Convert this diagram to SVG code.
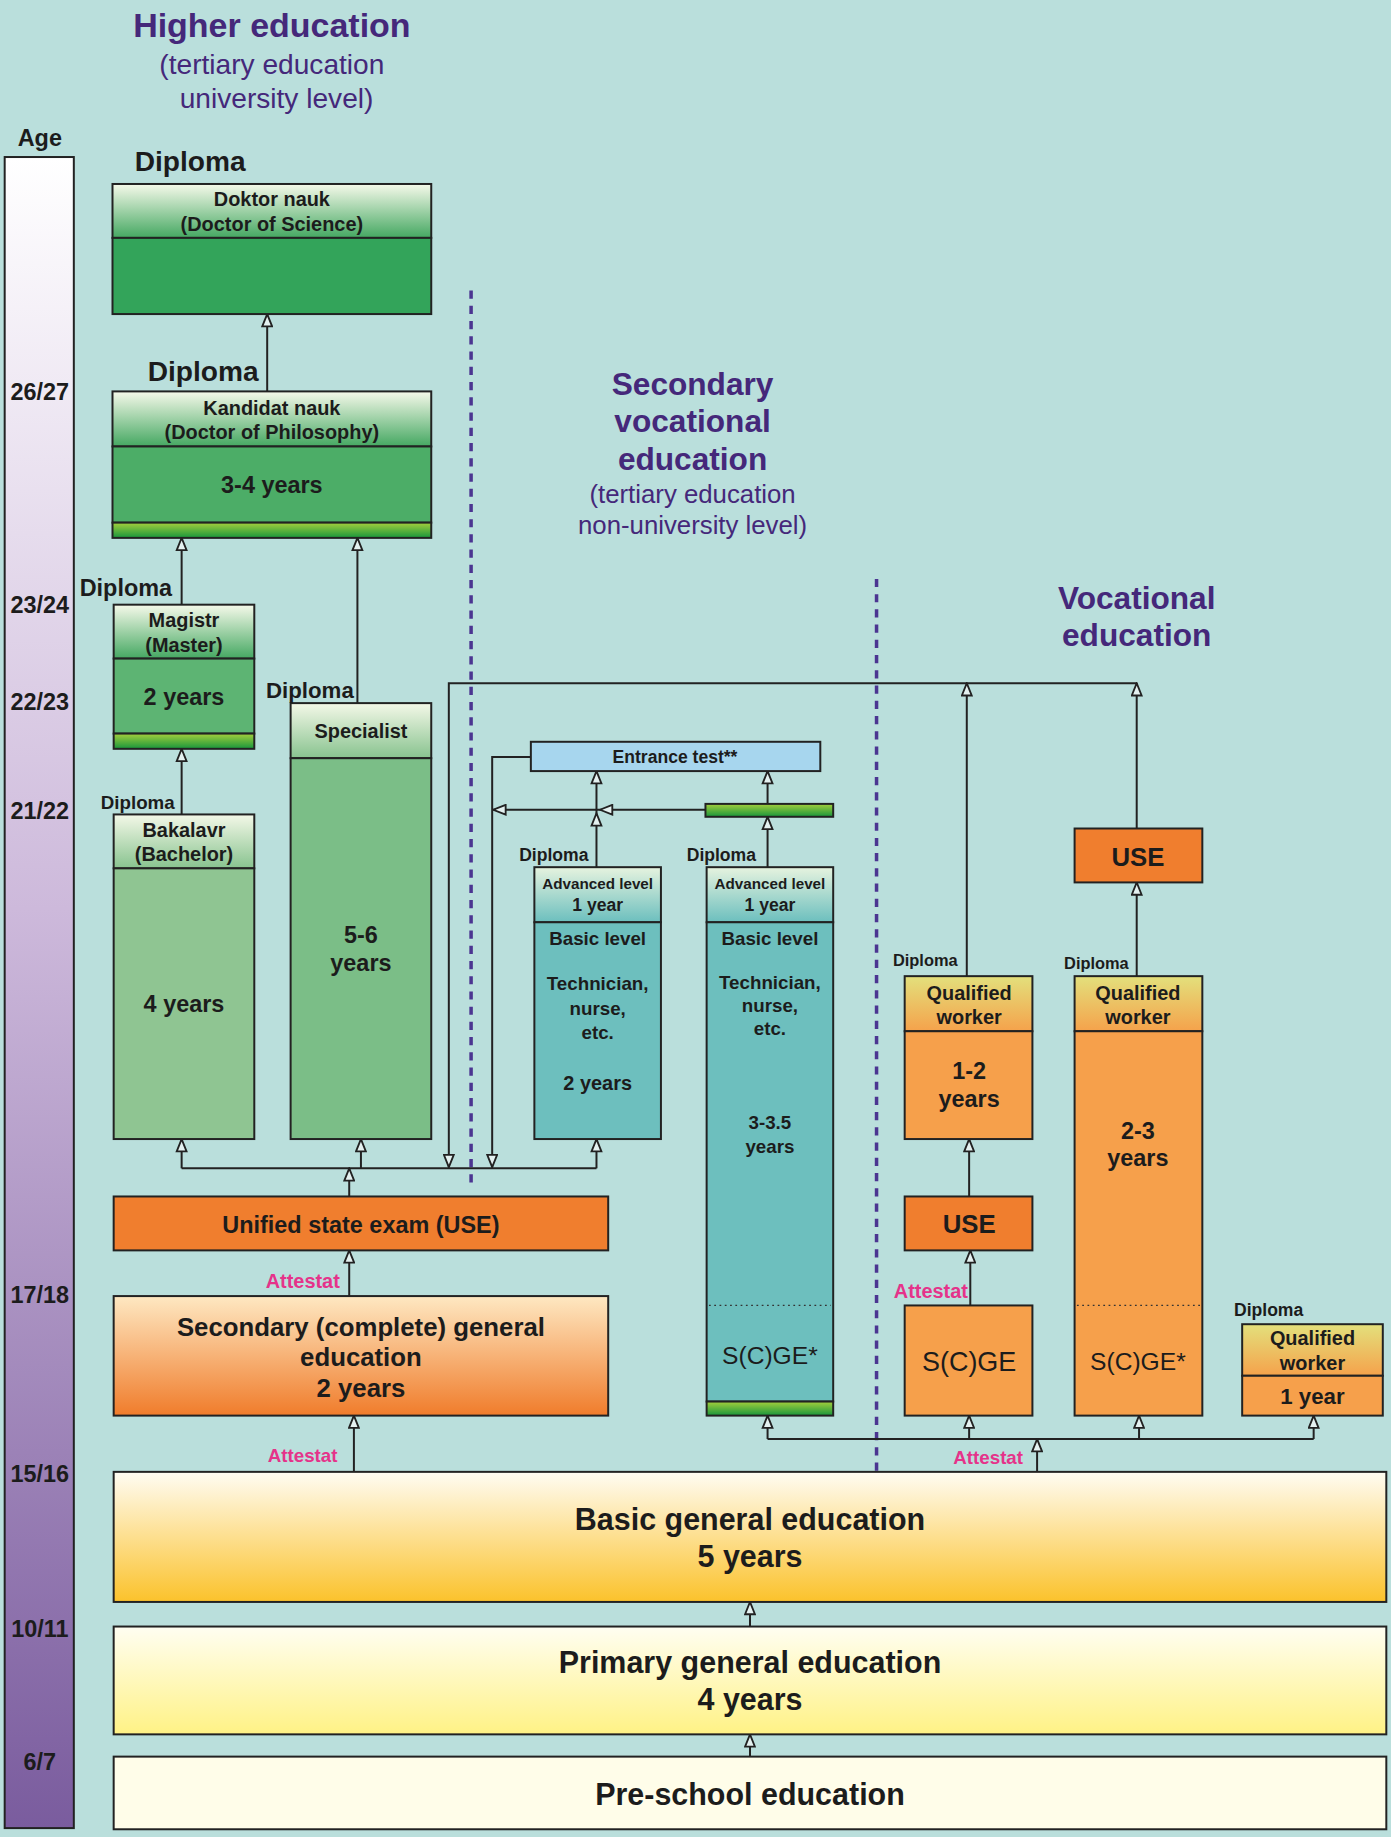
<svg xmlns="http://www.w3.org/2000/svg" width="1391" height="1837" viewBox="0 0 1391 1837">
<defs>
<linearGradient id="gAge" x1="0" y1="0" x2="0" y2="1"><stop offset="0" stop-color="#ffffff"/><stop offset="0.45" stop-color="#cdb9db"/><stop offset="1" stop-color="#7a5c9e"/></linearGradient>
<linearGradient id="gHeadDark" x1="0" y1="0" x2="0" y2="1"><stop offset="0" stop-color="#f6f9ea"/><stop offset="1" stop-color="#45a862"/></linearGradient>
<linearGradient id="gHeadLight" x1="0" y1="0" x2="0" y2="1"><stop offset="0" stop-color="#f4f8e8"/><stop offset="1" stop-color="#88c38f"/></linearGradient>
<linearGradient id="gStripe" x1="0" y1="0" x2="0" y2="1"><stop offset="0" stop-color="#a4cf3c"/><stop offset="1" stop-color="#18963c"/></linearGradient>
<linearGradient id="gTealHead" x1="0" y1="0" x2="0" y2="1"><stop offset="0" stop-color="#e6f3df"/><stop offset="1" stop-color="#6cbfbe"/></linearGradient>
<linearGradient id="gQWHead" x1="0" y1="0" x2="0" y2="1"><stop offset="0" stop-color="#e3e07c"/><stop offset="1" stop-color="#f5a24b"/></linearGradient>
<linearGradient id="gSec" x1="0" y1="0" x2="0" y2="1"><stop offset="0" stop-color="#fee8c2"/><stop offset="1" stop-color="#f07c2b"/></linearGradient>
<linearGradient id="gBasic" x1="0" y1="0" x2="0" y2="1"><stop offset="0" stop-color="#fffcf3"/><stop offset="1" stop-color="#fbc22b"/></linearGradient>
<linearGradient id="gPrim" x1="0" y1="0" x2="0" y2="1"><stop offset="0" stop-color="#fffef2"/><stop offset="1" stop-color="#fff285"/></linearGradient>
<marker id="ah" markerUnits="userSpaceOnUse" viewBox="0 0 12 10" refX="11" refY="5" markerWidth="13" markerHeight="10.5" orient="auto">
<path d="M1,1 L11,5 L1,9 Z" fill="#e4f1f0" stroke="#222" stroke-width="1.5" stroke-linejoin="miter"/>
</marker>
</defs>
<style>
.bx{stroke:#222;stroke-width:1.7}
.ln{fill:none;stroke:#222;stroke-width:1.7}
.ar{fill:none;stroke:#222;stroke-width:1.7;marker-end:url(#ah)}
.dv{fill:none;stroke:#4b3591;stroke-width:3;stroke-dasharray:7 6}
.dt{fill:none;stroke:#333;stroke-width:1;stroke-dasharray:1.5 3}
text{font-family:"Liberation Sans",Arial,sans-serif;fill:#1c1c1c;text-anchor:middle}
.b{font-weight:bold}
.t1{font-weight:bold;fill:#45287a;font-size:29px}
.t2{fill:#45287a;font-size:24px}
.age{font-weight:bold;font-size:20px}
.dip{font-weight:bold;text-anchor:start}
.att{font-weight:bold;fill:#e5338a;text-anchor:end;font-size:17px}
</style>
<rect width="1391" height="1837" fill="#badfdc"/>
<g transform="scale(1.171862)">
<g id="titles">
<text class="t1" x="232" y="32">Higher education</text>
<text class="t2" x="232" y="63">(tertiary education</text>
<text class="t2" x="236" y="92">university level)</text>
<text class="t1" x="591" y="337" style="font-size:27px">Secondary</text>
<text class="t1" x="591" y="369" style="font-size:27px">vocational</text>
<text class="t1" x="591" y="401" style="font-size:27px">education</text>
<text class="t2" x="591" y="429" style="font-size:22px">(tertiary education</text>
<text class="t2" x="591" y="456" style="font-size:22px">non-university level)</text>
<text class="t1" x="970" y="520" style="font-size:27px">Vocational</text>
<text class="t1" x="970" y="551" style="font-size:27px">education</text>
</g>
<g id="age">
<text class="age" x="34" y="125">Age</text>
<rect class="bx" x="4" y="134" width="59" height="1426" fill="url(#gAge)"/>
<text class="age" x="34" y="341">26/27</text>
<text class="age" x="34" y="523">23/24</text>
<text class="age" x="34" y="606">22/23</text>
<text class="age" x="34" y="699">21/22</text>
<text class="age" x="34" y="1112">17/18</text>
<text class="age" x="34" y="1265">15/16</text>
<text class="age" x="34" y="1397">10/11</text>
<text class="age" x="34" y="1510">6/7</text>
</g>
<g id="dividers">
<path class="dv" d="M402,248 V1012"/>
<path class="dv" d="M748,494 V1256"/>
</g>
<g id="connectors">
<path class="ar" d="M228,334 V268"/>
<path class="ar" d="M155,516 V459"/>
<path class="ar" d="M305,600 V459"/>
<path class="ar" d="M155,695 V639"/>
<path class="ln" d="M155,997 H509"/>
<path class="ar" d="M155,997 V972"/>
<path class="ar" d="M308,997 V972"/>
<path class="ar" d="M509,997 V972"/>
<path class="ar" d="M298,1021 V997"/>
<path class="ar" d="M825,833 V583"/>
<path class="ar" d="M970,707 V583"/>
<path class="ar" d="M970,583 H383 V996"/>
<path class="ar" d="M453,646 H420 V996"/>
<path class="ar" d="M602,691 H512"/>
<path class="ar" d="M512,691 H421"/>
<path class="ar" d="M509,740 V694"/>
<path class="ar" d="M509,694 V658"/>
<path class="ar" d="M655,686 V658"/>
<path class="ar" d="M655,740 V697"/>
<path class="ar" d="M298,1106 V1067"/>
<path class="ar" d="M302,1256 V1208"/>
<path class="ln" d="M655,1228 H1121"/>
<path class="ar" d="M655,1228 V1208"/>
<path class="ar" d="M827,1228 V1208"/>
<path class="ar" d="M972,1228 V1208"/>
<path class="ar" d="M1121,1228 V1208"/>
<path class="ar" d="M885,1256 V1228"/>
<path class="ar" d="M827,1021 V972"/>
<path class="ar" d="M828,1114 V1067"/>
<path class="ar" d="M970,833 V753"/>
<path class="ar" d="M640,1388 V1367"/>
<path class="ar" d="M640,1499 V1480"/>
</g>
<g id="doktor">
<text class="dip" x="115" y="146" style="font-size:24px">Diploma</text>
<rect class="bx" x="96" y="157" width="272" height="46" fill="url(#gHeadDark)"/>
<rect class="bx" x="96" y="203" width="272" height="65" fill="#33a45a"/>
<text class="b" x="232" y="176" style="font-size:17px">Doktor nauk</text>
<text class="b" x="232" y="197" style="font-size:17px">(Doctor of Science)</text>
</g>
<g id="kandidat">
<text class="dip" x="126" y="325" style="font-size:24px">Diploma</text>
<rect class="bx" x="96" y="334" width="272" height="47" fill="url(#gHeadDark)"/>
<rect class="bx" x="96" y="381" width="272" height="65" fill="#4cad67"/>
<rect class="bx" x="96" y="446" width="272" height="13" fill="url(#gStripe)"/>
<text class="b" x="232" y="354" style="font-size:17px">Kandidat nauk</text>
<text class="b" x="232" y="375" style="font-size:17px">(Doctor of Philosophy)</text>
<text class="b" x="232" y="421" style="font-size:20px">3-4 years</text>
</g>
<g id="magistr">
<text class="dip" x="68" y="509" style="font-size:20px">Diploma</text>
<rect class="bx" x="97" y="516" width="120" height="46" fill="url(#gHeadDark)"/>
<rect class="bx" x="97" y="562" width="120" height="64" fill="#5db473"/>
<rect class="bx" x="97" y="626" width="120" height="13" fill="url(#gStripe)"/>
<text class="b" x="157" y="535" style="font-size:17px">Magistr</text>
<text class="b" x="157" y="556" style="font-size:17px">(Master)</text>
<text class="b" x="157" y="602" style="font-size:20px">2 years</text>
</g>
<g id="bakalavr">
<text class="dip" x="86" y="690" style="font-size:16px">Diploma</text>
<rect class="bx" x="97" y="695" width="120" height="46" fill="url(#gHeadLight)"/>
<rect class="bx" x="97" y="741" width="120" height="231" fill="#8fc592"/>
<text class="b" x="157" y="714" style="font-size:17px">Bakalavr</text>
<text class="b" x="157" y="735" style="font-size:17px">(Bachelor)</text>
<text class="b" x="157" y="864" style="font-size:20px">4 years</text>
</g>
<g id="specialist">
<rect class="bx" x="248" y="600" width="120" height="47" fill="url(#gHeadLight)"/>
<rect class="bx" x="248" y="647" width="120" height="325" fill="#7bbe87"/>
<text class="dip" x="227" y="596" style="font-size:19px">Diploma</text>
<text class="b" x="308" y="630" style="font-size:17px">Specialist</text>
<text class="b" x="308" y="805" style="font-size:20px">5-6</text>
<text class="b" x="308" y="829" style="font-size:20px">years</text>
</g>
<g id="entrance">
<rect class="bx" x="453" y="633" width="247" height="25" fill="#a7d6ee"/>
<text class="b" x="576" y="651" style="font-size:15px">Entrance test**</text>
</g>
<g id="greenbar">
<rect class="bx" x="602" y="686" width="109" height="11" fill="url(#gStripe)"/>
</g>
<g id="sve-left">
<text class="dip" x="443" y="735" style="font-size:15px">Diploma</text>
<rect class="bx" x="456" y="740" width="108" height="47" fill="url(#gTealHead)"/>
<rect class="bx" x="456" y="787" width="108" height="185" fill="#6dbfbe"/>
<text class="b" x="510" y="759" style="font-size:13px">Advanced level</text>
<text class="b" x="510" y="777" style="font-size:15px">1 year</text>
<text class="b" x="510" y="806" style="font-size:16px">Basic level</text>
<text class="b" x="510" y="845" style="font-size:16px">Technician,</text>
<text class="b" x="510" y="866" style="font-size:16px">nurse,</text>
<text class="b" x="510" y="887" style="font-size:16px">etc.</text>
<text class="b" x="510" y="930" style="font-size:17px">2 years</text>
</g>
<g id="sve-right">
<text class="dip" x="586" y="735" style="font-size:15px">Diploma</text>
<rect class="bx" x="603" y="740" width="108" height="47" fill="url(#gTealHead)"/>
<rect class="bx" x="603" y="787" width="108" height="409" fill="#6dbfbe"/>
<rect class="bx" x="603" y="1196" width="108" height="12" fill="url(#gStripe)"/>
<path class="dt" d="M605,1114 H709"/>
<text class="b" x="657" y="759" style="font-size:13px">Advanced level</text>
<text class="b" x="657" y="777" style="font-size:15px">1 year</text>
<text class="b" x="657" y="806" style="font-size:16px">Basic level</text>
<text class="b" x="657" y="844" style="font-size:16px">Technician,</text>
<text class="b" x="657" y="864" style="font-size:16px">nurse,</text>
<text class="b" x="657" y="883" style="font-size:16px">etc.</text>
<text class="b" x="657" y="963" style="font-size:16px">3-3.5</text>
<text class="b" x="657" y="984" style="font-size:16px">years</text>
<text x="657" y="1164" style="font-size:21px">S(C)GE*</text>
</g>
<g id="use-main">
<rect class="bx" x="97" y="1021" width="422" height="46" fill="#f07e2e"/>
<text class="b" x="308" y="1052" style="font-size:20px">Unified state exam (USE)</text>
</g>
<g id="secondary-complete">
<text class="att" x="290" y="1099">Attestat</text>
<rect class="bx" x="97" y="1106" width="422" height="102" fill="url(#gSec)"/>
<text class="b" x="308" y="1140" style="font-size:22px">Secondary (complete) general</text>
<text class="b" x="308" y="1166" style="font-size:22px">education</text>
<text class="b" x="308" y="1192" style="font-size:22px">2 years</text>
</g>
<g id="qw1">
<text class="dip" x="762" y="824" style="font-size:14px">Diploma</text>
<rect class="bx" x="772" y="833" width="109" height="47" fill="url(#gQWHead)"/>
<rect class="bx" x="772" y="880" width="109" height="92" fill="#f6a04b"/>
<text class="b" x="827" y="853" style="font-size:17px">Qualified</text>
<text class="b" x="827" y="874" style="font-size:17px">worker</text>
<text class="b" x="827" y="921" style="font-size:20px">1-2</text>
<text class="b" x="827" y="945" style="font-size:20px">years</text>
</g>
<g id="use-mid">
<rect class="bx" x="772" y="1021" width="109" height="46" fill="#f07e2e"/>
<text class="b" x="827" y="1052" style="font-size:22px">USE</text>
</g>
<g id="scge">
<text class="att" x="826" y="1108">Attestat</text>
<rect class="bx" x="772" y="1114" width="109" height="94" fill="#f6a04b"/>
<text x="827" y="1170" style="font-size:23px">S(C)GE</text>
</g>
<g id="use-right">
<rect class="bx" x="917" y="707" width="109" height="46" fill="#f07e2e"/>
<text class="b" x="971" y="739" style="font-size:22px">USE</text>
</g>
<g id="qw2">
<text class="dip" x="908" y="827" style="font-size:14px">Diploma</text>
<rect class="bx" x="917" y="833" width="109" height="47" fill="url(#gQWHead)"/>
<rect class="bx" x="917" y="880" width="109" height="328" fill="#f6a04b"/>
<path class="dt" d="M919,1114 H1024"/>
<text class="b" x="971" y="853" style="font-size:17px">Qualified</text>
<text class="b" x="971" y="874" style="font-size:17px">worker</text>
<text class="b" x="971" y="972" style="font-size:20px">2-3</text>
<text class="b" x="971" y="995" style="font-size:20px">years</text>
<text x="971" y="1169" style="font-size:21px">S(C)GE*</text>
</g>
<g id="qw3">
<text class="dip" x="1053" y="1123" style="font-size:15px">Diploma</text>
<rect class="bx" x="1060" y="1130" width="120" height="44" fill="url(#gQWHead)"/>
<rect class="bx" x="1060" y="1174" width="120" height="34" fill="#f6a04b"/>
<text class="b" x="1120" y="1148" style="font-size:17px">Qualified</text>
<text class="b" x="1120" y="1169" style="font-size:17px">worker</text>
<text class="b" x="1120" y="1198" style="font-size:19px">1 year</text>
</g>
<g id="basic">
<text class="att" x="288" y="1248" style="font-size:16px">Attestat</text>
<text class="att" x="873" y="1249" style="font-size:16px">Attestat</text>
<rect class="bx" x="97" y="1256" width="1086" height="111" fill="url(#gBasic)"/>
<text class="b" x="640" y="1306" style="font-size:26px">Basic general education</text>
<text class="b" x="640" y="1337" style="font-size:26px">5 years</text>
</g>
<g id="primary">
<rect class="bx" x="97" y="1388" width="1086" height="92" fill="url(#gPrim)"/>
<text class="b" x="640" y="1428" style="font-size:26px">Primary general education</text>
<text class="b" x="640" y="1459" style="font-size:26px">4 years</text>
</g>
<g id="preschool">
<rect class="bx" x="97" y="1499" width="1086" height="62" fill="#fffde9"/>
<text class="b" x="640" y="1540" style="font-size:26px">Pre-school education</text>
</g>
</g>
</svg>
